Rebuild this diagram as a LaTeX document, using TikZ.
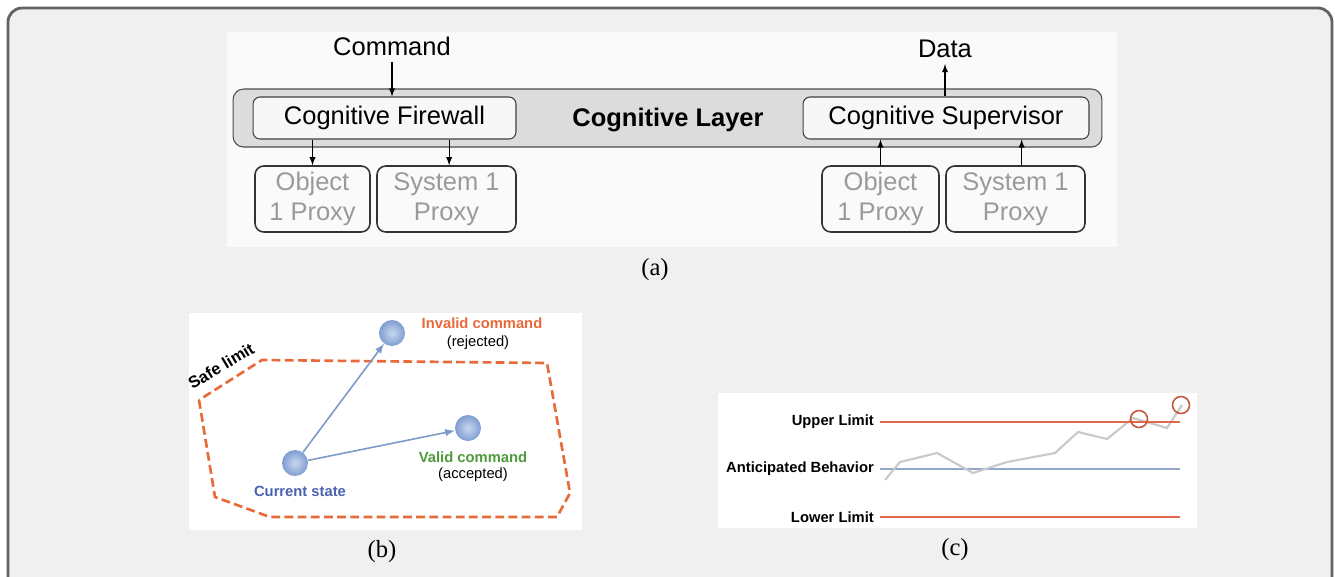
\documentclass[tikz,border=0pt]{standalone}
\usepackage{fontspec}
\setmainfont{Liberation Serif}
\newfontfamily\arialfont{Liberation Sans}
\usetikzlibrary{arrows}
\usetikzlibrary{shapes}

\definecolor{framegray}{HTML}{626262}
\definecolor{bggray}{HTML}{F0F0F0}
\definecolor{layergray}{HTML}{DCDCDC}
\definecolor{proxytext}{HTML}{9A9A9A}
\definecolor{limitred}{HTML}{E2694B}
\definecolor{safeorange}{HTML}{E8693A}
\definecolor{statblue}{HTML}{4A62B0}
\definecolor{okgreen}{HTML}{4E9A3C}
\definecolor{ballblue}{HTML}{86A6DC}
\definecolor{arrowblue}{HTML}{7C9AC8}
\definecolor{behavblue}{HTML}{93A7CC}
\definecolor{trendgray}{HTML}{C9C9C9}

\tikzset{
    sans/.style={font=\arialfont\fontsize{14.5}{17}\selectfont},
    small/.style={font=\arialfont\fontsize{8.4}{10}\selectfont},
    smallbold/.style={font=\arialfont\bfseries\fontsize{8.4}{10}\selectfont},
    cogbox/.style={sans, draw=black!75, fill=white!97!black, rounded corners=4pt, line width=0.6pt, minimum height=0.84cm},
    proxy/.style={sans, draw=black!80, rounded corners=5pt, line width=0.9pt, text=proxytext, align=center, minimum height=1.32cm, inner sep=1pt},
    ball/.style={circle, minimum size=0.52cm, inner sep=0pt, shade, inner color=ballblue!45!white, outer color=ballblue!95!black},
    wire/.style={->, >=latex, line width=0.6pt},
    move/.style={->, >=latex, line width=0.9pt, draw=arrowblue},
    caption/.style={font=\fontsize{14}{16}\selectfont}
}

\begin{document}
\begin{tikzpicture}[x=0.02cm, y=-0.02cm]
        \useasboundingbox (0, 0) rectangle (1335, 576);
        \draw[framegray, fill=bggray, line width=1.6pt, rounded corners=8pt] (8, 8) rectangle (1332, 600);

        \fill[white!98!black] (227, 32) rectangle (1117, 247);
        \node[draw=black!70, fill=layergray, rounded corners=6pt, line width=0.6pt, minimum width=17.38cm, minimum height=1.16cm] (layer) at (667.5, 118) {};
        \node[sans, font=\arialfont\bfseries\fontsize{14.5}{17}\selectfont] (laytitle) at (668, 120) {Cognitive Layer};
        \node[cogbox, minimum width=5.26cm] (fw) at (384.5, 118) {Cognitive Firewall};
        \node[cogbox, minimum width=5.72cm] (sup) at (946, 118) {Cognitive Supervisor};
        \node[sans] (cmd) at (392, 46) {Command};
        \node[sans] (data) at (945, 49) {Data};
        \draw[wire] (cmd.south) -- (cmd.south |- fw.north);
        \draw[wire] (data.south |- sup.north) -- (data.south);

        \node[proxy, minimum width=2.3cm] (obja) at (312.5, 199) {Object\\1 Proxy};
        \node[proxy, minimum width=2.78cm] (sysa) at (446.5, 199) {System 1\\Proxy};
        \node[proxy, minimum width=2.34cm] (objb) at (880.5, 199) {Object\\1 Proxy};
        \node[proxy, minimum width=2.78cm] (sysb) at (1015.5, 199) {System 1\\Proxy};
        \draw[wire] (obja.north |- fw.south) -- (obja.north);
        \draw[wire] ([xshift=1.5]sysa.north |- fw.south) -- ([xshift=1.5]sysa.north);
        \draw[wire] (objb.north) -- (objb.north |- sup.south);
        \draw[wire] ([xshift=3.5]sysb.north) -- ([xshift=3.5]sysb.north |- sup.south);
        \node[caption] (capa) at (655, 270) {(a)};

        \fill[white] (189, 313) rectangle (582, 530);
        \draw[safeorange, dashed, dash pattern=on 5pt off 2.5pt, line width=1.5pt] (199, 400) -- (215, 497) -- (270, 517) -- (557, 517) -- (570, 493) -- (547, 363) -- (262, 360) -- cycle;
        \node[smallbold, font=\arialfont\bfseries\fontsize{9.4}{11}\selectfont, rotate=31, inner sep=0pt] (safe) at (221, 366) {Safe limit};
        \node[ball] (cur) at (295, 463) {};
        \node[ball] (bad) at (392, 333) {};
        \node[ball] (good) at (468, 428) {};
        \draw[move] (cur) -- (bad);
        \draw[move] (cur) -- (good);
        \node[smallbold, text=safeorange] (badname) at (482, 323) {Invalid command};
        \node[small] (badnote) at (478, 343) {(rejected)};
        \node[smallbold, text=okgreen] (goodname) at (473, 457) {Valid command};
        \node[small] (goodnote) at (473, 475) {(accepted)};
        \node[smallbold, text=statblue] (curname) at (300, 491) {Current state};
        \node[caption] (capb) at (382, 552) {(b)};

        \fill[white] (718, 393) rectangle (1197, 528);
        \node[smallbold, anchor=east] (upper) at (880, 422) {Upper Limit};
        \node[smallbold, anchor=east] (behav) at (880, 469) {Anticipated Behavior};
        \node[smallbold, anchor=east] (lower) at (880, 517) {Lower Limit};
        \coordinate (upperend) at (1180, 422);
        \coordinate (behavend) at (1180, 469);
        \coordinate (lowerend) at (1180, 517);
        \draw[behavblue, line width=0.8pt] (behav.east) -- (behavend);
        \draw[trendgray, line width=1.2pt] (885, 480) -- (900, 462) -- (937, 453) -- (973, 473) -- (1007, 462) -- (1055, 453) -- (1078, 432) -- (1107, 439) -- (1133, 418) -- (1167, 428) -- (1182, 405);
        \draw[limitred, line width=1.5pt] (upper.east) -- (upperend);
        \draw[limitred, line width=1.5pt] (lower.east) -- (lowerend);
        \draw[limitred!85!black, line width=0.9pt] (1139, 419) circle (8.5);
        \draw[limitred!85!black, line width=0.9pt] (1181, 405) circle (8.5);
        \node[caption] (capc) at (955, 550) {(c)};
\end{tikzpicture}
\end{document}
